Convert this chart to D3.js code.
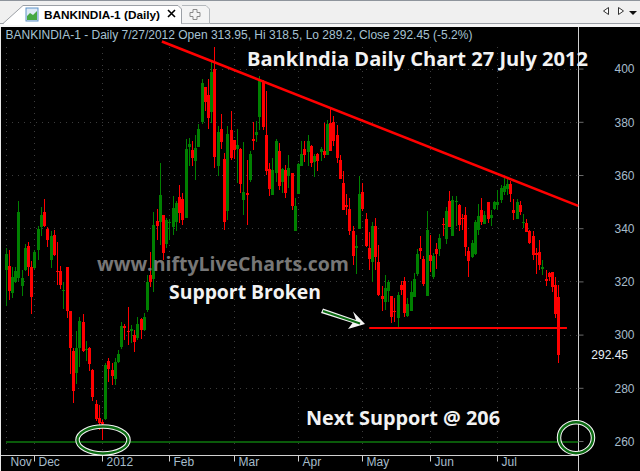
<!DOCTYPE html>
<html>
<head>
<meta charset="utf-8">
<script src="https://cdn.jsdelivr.net/npm/d3@7"></script>
<style>
    html, body { margin: 0; padding: 0; background: #000; overflow: hidden; }
    svg { display: block; }
    text { font-family: "Liberation Sans", Arial, sans-serif; }
    .note { font-family: "Open Sans", sans-serif; font-weight: 700; fill: #f2f2f2; }
</style>
</head>
<body>
<svg id="chart" width="640" height="471"></svg>
<script>
let opens = [
    324.4, 325.9, 315.8, 319.6, 321.2, 318.4, 324.4, 333.4, 325.4, 325.1,
    331.9, 340.4, 346, 339.8, 327.9, 337.6, 324, 324, 316.6, 325.4,
    308.9, 293.9, 285.7, 294.9, 304.8, 294.3, 295, 286.7, 273.9, 268.7,
    267.3, 268.3, 289.9, 286.7, 283.3, 289.8, 295.5, 303.2, 301.5, 301.5,
    299.8, 298.8, 305.7, 301.7, 309.3, 322.4, 320.9, 342.7, 342.5, 345,
    334.1, 341.9, 340.3, 342.2, 351.9, 351.1, 344, 370.5, 369.5, 365.4,
    370.5, 379.8, 393.1, 390.2, 383.7, 399.9, 363.5, 377.4, 366.1, 346.5,
    377, 373.3, 369.9, 369.9, 350.7, 353.2, 358.2, 373.7, 375.2, 381.7,
    395, 375.2, 362.2, 352.6, 360.7, 369.1, 357.5, 361.7, 359.5, 360.7,
    338.8, 352.9, 363.5, 369.9, 368.8, 370.8, 364.7, 368, 368.8, 369.1,
    367.6, 379.6, 380, 375.2, 365.8, 357, 348.8, 347.3, 339, 332.4,
    339.7, 353.7, 343.6, 332.6, 327.4, 340.9, 327.4, 314.6, 312.4, 316.4,
    314.6, 308.9, 306.2, 318.7, 320, 307, 308.7, 314.3, 322.8, 332.6,
    328.5, 314.6, 330, 321.6, 332.3, 332.3, 341.7, 336, 350.1, 336.9,
    349.8, 348.8, 343.8, 345, 331.3, 329.1, 330.4, 339.4, 346.9, 341.7,
    349.7, 343.9, 347.3, 348.9, 350.7, 353.7, 354.7, 356.7, 346.9, 343.6,
    348.8, 341.9, 341.9, 339, 337.2, 330.6, 331, 324.7, 321, 323.1,
    323.5, 318.7, 313.95
]
let highs = [
    332.5, 331.9, 325.4, 325.4, 350.4, 324.4, 334, 334.9, 327.8, 331.9,
    340.9, 348, 351.1, 340.3, 338.8, 339.4, 335, 325.9, 319.9, 325.4,
    308.9, 294.9, 301.4, 306.8, 307.8, 297.6, 295.5, 287.1, 275.4, 273.6,
    267.9, 289.2, 291.1, 289.2, 291.1, 294.2, 304.9, 304, 310.5, 303.5,
    301.7, 306.5, 306.1, 308, 322.4, 331.2, 346.2, 347.2, 364.5, 345,
    343.8, 343.4, 352.2, 350.1, 356.3, 353.2, 373.5, 373.9, 372.7, 374.9,
    379.3, 396.2, 393.1, 396.2, 402.8, 408.3, 378.5, 383.1, 368.3, 378.3,
    383.9, 373.3, 377.3, 370.1, 372.4, 365.7, 368.9, 379.8, 380.4, 397.4,
    395.6, 391.5, 364.5, 366.4, 373.5, 372, 362.6, 363.9, 367.6, 360.7,
    351.3, 364.5, 372.7, 372.7, 375.2, 371.4, 367.9, 368.3, 370.5, 379.6,
    380.8, 385.2, 382.3, 378.9, 367.6, 361.4, 353, 351.3, 340.7, 337.3,
    359.5, 357, 345.7, 338.4, 342.2, 343.8, 333.8, 318.1, 322.3, 320.6,
    314.6, 313.7, 316.2, 320.3, 321.6, 313.7, 320, 323.1, 332.1, 337.2,
    329.4, 346.6, 337.5, 330.6, 334.6, 337.9, 343.8, 347.8, 353.8, 352.2,
    352, 349, 345.4, 347.9, 332.9, 335.6, 343.2, 349.2, 351.5, 346.3,
    349.7, 346.9, 350.3, 354.2, 356.4, 358.9, 358.5, 357.6, 351, 351,
    350.2, 345.4, 343.4, 339.2, 339, 332.5, 335.6, 328.1, 324.4, 323.7,
    323.7, 321.5, 318.5
]
let lows = [
    310.6, 313.1, 313.7, 319.4, 320, 314.6, 323.8, 321.9, 307.8, 324.6,
    327.9, 336.9, 340.4, 332.9, 325.1, 329.6, 318.7, 317.1, 309.6, 306.2,
    285.2, 274.4, 281.5, 288, 293.3, 290.2, 286.5, 275.2, 267.7, 264.1,
    260.4, 267.9, 282, 281.1, 281.1, 289.4, 294.4, 298, 296.1, 296.7,
    293.6, 298, 298.2, 301.5, 308.6, 318, 316.2, 335.6, 333.7, 328.1,
    332.5, 335.6, 337.3, 339.1, 341.9, 341.3, 343.8, 363.2, 363.5, 358.2,
    370.5, 379.3, 383.9, 377.3, 379.6, 362.6, 359.5, 369.8, 339.4, 343.2,
    365.8, 366, 357, 353.2, 345, 341.3, 357.2, 369.5, 372.3, 377,
    377, 360.1, 352.2, 352.6, 357.2, 354.5, 353.2, 351.3, 355.1, 346.7,
    338.8, 352.9, 363.5, 364.7, 363.2, 363, 359.2, 361.4, 365.1, 366.4,
    367.6, 369.1, 370.8, 364.5, 358.5, 346.9, 345, 337.5, 326.2, 322.8,
    339.7, 346.3, 332.9, 324.1, 319.6, 324.1, 314.6, 309, 309.3, 312.4,
    304.3, 304.9, 303, 315, 306.8, 306.8, 308.7, 314, 322.1, 328.4,
    318.1, 314.6, 323.7, 320.8, 324.6, 329.4, 336.9, 334.1, 340.4, 336.9,
    340.7, 338.8, 339.4, 329.4, 321.5, 328.7, 330, 337.3, 341.3, 341.7,
    341.9, 340.7, 346.7, 346.9, 349.5, 352.6, 352.6, 350, 343.2, 343.6,
    345, 340, 338.5, 334.1, 328.1, 322.8, 324.1, 322.5, 318.3, 320,
    316.2, 306.2, 289.2
]
let closes = [
    330.4, 316.5, 321.6, 324, 346, 321.4, 332.7, 325.4, 314.3, 331.2,
    339.8, 345.1, 340.7, 335.4, 336.9, 330, 323.4, 318.7, 316.9, 308.7,
    295.1, 278.8, 294.9, 305.3, 293.9, 294.5, 289, 276.7, 268.2, 266.6,
    266.4, 288.6, 287, 284.5, 289.6, 292.7, 303.2, 302.6, 301.1, 302,
    297.3, 304, 301.7, 306.7, 319.9, 319.9, 341.3, 340.9, 352.6, 330.6,
    343.2, 342.3, 347.6, 349.4, 345.7, 343.2, 369.9, 371.8, 366.4, 370.1,
    377.4, 394.4, 387.5, 381.4, 398.9, 366.6, 376, 372.4, 342.2, 375.5,
    366.4, 369.3, 371.4, 356.7, 353.7, 352.3, 368, 372.9, 376, 395.6,
    377.9, 361.4, 354.7, 362, 372.9, 356, 362.4, 353.2, 362.7, 348.4,
    348.2, 364.2, 368, 367.6, 372.7, 364.5, 367, 365.4, 369.9, 367.6,
    379.3, 369.1, 372.6, 366.4, 358.5, 346.9, 347.8, 338.8, 329.6, 333.4,
    353, 347.2, 333.4, 328.5, 340.9, 329.1, 314.9, 313.3, 317.4, 319.6,
    306.8, 308.7, 314.9, 316.8, 308, 311.5, 316.1, 321, 330.4, 331.5,
    319, 339.4, 327.7, 329.6, 330.4, 336.4, 341.4, 346.3, 340.4, 350.7,
    350.1, 341.3, 343.6, 332.8, 327.7, 334.4, 342.2, 344.7, 342.3, 345,
    343.4, 345, 349.7, 349.7, 355, 356, 356.7, 353, 345.7, 349.8,
    346.2, 342.2, 338.5, 334.4, 330, 330.1, 326.2, 325.5, 320.2, 321.5,
    318, 307.8, 292.45
]

let priceTicks = [260, 280, 300, 320, 340, 360, 380, 400]
let monthLabels = ["Nov", "Dec", "2012", "Feb", "Mar", "Apr", "May", "Jun", "Jul"]
let monthStarts = [0, 9, 30, 51, 71, 91, 111, 132, 153]

// lines and notes drawn by hand on the screenshot, as bar index and price
let trendBars = [48.5, 178]
let trendPrices = [410.2, 348.4]
let brokenBars = [113, 174.5]
let brokenPrice = 302.5
let nextBars = [0, 178]
let nextPrice = 259.62
let lastClose = 292.45

let chart = d3.select("#chart")

let plotRight = 578
let plotBottom = 455
let plotTop = 27

let xscale = d3.scaleLinear()
    .domain([0, opens.length - 1])
    .range([6, 558.9])

let yscale = d3.scaleLinear()
    .domain([260, 400])
    .range([441, 68.6])

let barX = i => Math.floor(xscale(i))

// window chrome
chart.append("rect").attr("width", 640).attr("height", 471).attr("fill", "#000")
chart.append("rect").attr("width", 640).attr("height", plotTop).attr("fill", "#f0f0f0")
chart.append("rect").attr("width", 640).attr("height", 1).attr("fill", "#8e949c")
chart.append("rect").attr("y", 23).attr("width", 640).attr("height", 1).attr("fill", "#9ca0a6")
chart.append("rect").attr("y", 24).attr("width", 640).attr("height", 3).attr("fill", "#f7f7f7")
chart.append("rect").attr("y", plotTop).attr("width", 1).attr("height", 444).attr("fill", "#e8e8e8")

chart.append("path")
    .attr("d", "M3,23.5 L23,5.5 L178,5.5 L181.5,9 L181.5,23.5")
    .attr("fill", "#fff")
    .attr("stroke", "#9ca0a6")
chart.append("rect").attr("x", 4).attr("y", 23).attr("width", 177).attr("height", 2).attr("fill", "#fff")
chart.append("path")
    .attr("d", "M182,5.5 L206,5.5 L209.5,9 L209.5,23.5 L182,23.5")
    .attr("fill", "#f4f4f4")
    .attr("stroke", "#b4b8bc")

// little chart icon on the tab
chart.append("rect").attr("x", 26).attr("y", 8).attr("width", 12).attr("height", 13).attr("fill", "#dfeaf6").attr("stroke", "#5f93c8")
chart.append("path").attr("d", "M27,20 L27,16 L30,13 L33,15 L37,11 L37,20 Z").attr("fill", "#46a843")

chart.append("text").attr("x", 44).attr("y", 18.5)
    .attr("font-size", 11.8).attr("font-weight", "bold").attr("fill", "#000")
    .text("BANKINDIA-1 (Daily)")
chart.append("path").attr("d", "M168,10 L175,17 M175,10 L168,17").attr("stroke", "#000").attr("stroke-width", 1.6)
chart.append("path")
    .attr("d", "M193,9.5 h4 v3 h3 v4 h-3 v3 h-4 v-3 h-3 v-4 h3 Z")
    .attr("fill", "none").attr("stroke", "#8a8a8a")

// scroll arrows at the far right of the tab bar
chart.append("path").attr("d", "M608.5,7.5 L603.5,11 L608.5,14.5 Z").attr("fill", "#fff").attr("stroke", "#333")
chart.append("path").attr("d", "M618.5,7.5 L623.5,11 L618.5,14.5 Z").attr("fill", "#fff").attr("stroke", "#333")
chart.append("path").attr("d", "M629,11 L637,11 L633,15 Z").attr("fill", "#111")

// dotted grid
let grid = chart.append("g").attr("stroke", "#3c3c3c").attr("stroke-width", 1).attr("stroke-dasharray", "1,5")
grid.selectAll("line.h").data(priceTicks).enter().append("line")
    .attr("x1", 6).attr("x2", plotRight)
    .attr("y1", d => Math.round(yscale(d)) + 0.5)
    .attr("y2", d => Math.round(yscale(d)) + 0.5)
grid.selectAll("line.v").data(monthStarts).enter().append("line")
    .attr("x1", d => barX(d) + 0.5).attr("x2", d => barX(d) + 0.5)
    .attr("y1", plotTop + 20).attr("y2", plotBottom)

// candles
let candles = chart.append("g").selectAll("g").data(d3.range(opens.length)).enter().append("g")
    .attr("fill", i => closes[i] >= opens[i] ? "#008000" : "#ff0000")
candles.append("rect")
    .attr("x", i => barX(i))
    .attr("width", 1)
    .attr("y", i => Math.round(yscale(highs[i])))
    .attr("height", i => Math.max(1, Math.round(yscale(lows[i])) - Math.round(yscale(highs[i]))))
candles.append("rect")
    .attr("x", i => barX(i) - 1)
    .attr("width", 3)
    .attr("y", i => Math.round(yscale(Math.max(opens[i], closes[i]))))
    .attr("height", i => Math.max(1, Math.round(yscale(Math.min(opens[i], closes[i]))) - Math.round(yscale(Math.max(opens[i], closes[i])))))

// axes
let xaxis = d3.axisBottom(xscale)
    .tickValues(monthStarts)
    .tickFormat((d, i) => monthLabels[i])
    .tickSize(6)
    .tickPadding(2)
let xg = chart.append("g")
    .attr("transform", "translate(0," + (plotBottom + 0.5) + ")")
    .call(xaxis)
xg.select(".domain").remove()
xg.selectAll(".tick")
    .attr("transform", d => "translate(" + (barX(d) + 0.5) + ",0)")
xg.selectAll(".tick line").attr("stroke", "#d0d0d0")
    .attr("stroke-opacity", d => d == 0 ? 0 : 1)
xg.selectAll(".tick text")
    .attr("fill", "#a6bccb")
    .attr("font-size", 12)
    .style("font-family", "'Liberation Sans', sans-serif")
    .attr("text-anchor", "start")
    .attr("x", 4)
    .attr("y", 2)

chart.append("rect").attr("x", 1).attr("y", plotBottom).attr("width", plotRight).attr("height", 1).attr("fill", "#d0d0d0")
chart.append("rect").attr("x", plotRight).attr("y", plotTop).attr("width", 1).attr("height", 444).attr("fill", "#d0d0d0")

let yaxis = d3.axisRight(yscale)
    .tickValues(priceTicks)
    .tickFormat(d3.format("d"))
    .tickSize(5)
let yg = chart.append("g")
    .attr("transform", "translate(" + (plotRight + 0.5) + ",0)")
    .call(yaxis)
yg.select(".domain").remove()
yg.selectAll(".tick line").attr("stroke", "#6a6a6a")
yg.selectAll(".tick text")
    .attr("fill", "#a6bccb")
    .attr("font-size", 12)
    .style("font-family", "'Liberation Sans', sans-serif")
    .attr("text-anchor", "end")
    .attr("x", 56)
    .attr("dy", "0.35em")

chart.append("text")
    .attr("x", 628).attr("y", yscale(lastClose) + 4.5)
    .attr("text-anchor", "end")
    .attr("font-size", 12)
    .attr("fill", "#e4eef6")
    .text(lastClose)

chart.append("text")
    .attr("x", 5.5).attr("y", 39)
    .attr("font-size", 12)
    .attr("fill", "#a6c2d2")
    .text("BANKINDIA-1 - Daily 7/27/2012 Open 313.95, Hi 318.5, Lo 289.2, Close 292.45 (-5.2%)")

// hand drawn lines
let line = d3.line().x(d => xscale(d[0])).y(d => yscale(d[1]))
chart.append("path")
    .attr("d", line(d3.zip(trendBars, trendPrices)))
    .attr("stroke", "#ff0000").attr("stroke-width", 2.6).attr("fill", "none")
chart.append("path")
    .attr("d", line(brokenBars.map(b => [b, brokenPrice])))
    .attr("stroke", "#ff0000").attr("stroke-width", 2).attr("fill", "none")
chart.append("path")
    .attr("d", line(nextBars.map(b => [b, nextPrice])))
    .attr("stroke", "#0a5a0a").attr("stroke-width", 2).attr("fill", "none")

// circles around the two touch points of the support line
let rings = [[103, 440, 25.5, 13.5], [576, 437.7, 17, 15.5]]
rings.forEach(r => {
    chart.append("ellipse")
        .attr("cx", r[0]).attr("cy", r[1]).attr("rx", r[2]).attr("ry", r[3])
        .attr("fill", "none").attr("stroke", "#f4f4f4").attr("stroke-width", 4.5)
    chart.append("ellipse")
        .attr("cx", r[0]).attr("cy", r[1]).attr("rx", r[2]).attr("ry", r[3])
        .attr("fill", "none").attr("stroke", "#0b6a12").attr("stroke-width", 2.4)
})

// arrow pointing at the broken support
chart.append("path")
    .attr("d", "M321,313 L323,308.5 L356,320 L353,311.5 L365,324 L348,329 L352.5,323 Z")
    .attr("fill", "#f4f4f4")
chart.append("path")
    .attr("d", "M323,311 L360,323.5")
    .attr("stroke", "#0b6a12").attr("stroke-width", 2).attr("fill", "none")

chart.append("text").attr("class", "note")
    .attr("x", 247).attr("y", 66).attr("font-size", 19.5)
    .attr("textLength", 341).attr("lengthAdjust", "spacingAndGlyphs")
    .text("BankIndia Daily Chart 27 July 2012")
chart.append("text").attr("class", "note")
    .attr("x", 97).attr("y", 271).attr("font-size", 19.5)
    .attr("textLength", 252).attr("lengthAdjust", "spacingAndGlyphs")
    .style("fill", "#777")
    .text("www.niftyLiveCharts.com")
chart.append("text").attr("class", "note")
    .attr("x", 169).attr("y", 299).attr("font-size", 19.5)
    .attr("textLength", 152).attr("lengthAdjust", "spacingAndGlyphs")
    .text("Support Broken")
chart.append("text").attr("class", "note")
    .attr("x", 306).attr("y", 425).attr("font-size", 19.5)
    .attr("textLength", 194).attr("lengthAdjust", "spacingAndGlyphs")
    .text("Next Support @ 206")
</script>
</body>
</html>
